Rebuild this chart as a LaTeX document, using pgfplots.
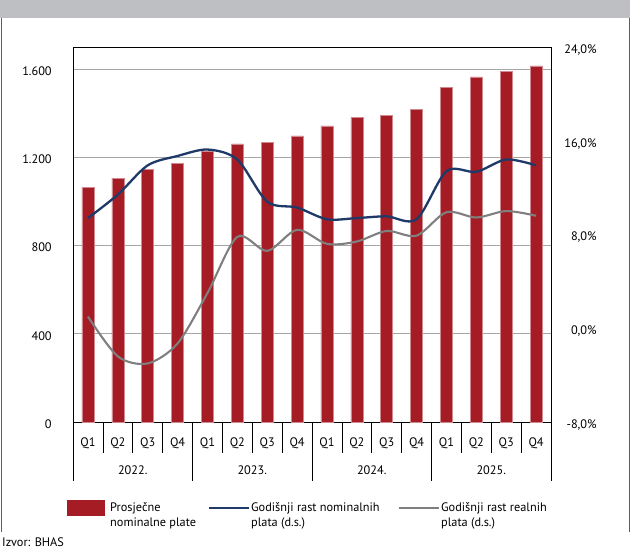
\documentclass[border=0pt]{standalone}
\usepackage{pgfplots}
\pgfplotsset{compat=1.18}
\usepackage{fontspec}
\setmainfont{PT Sans}

\definecolor{barred}{HTML}{A51C24}
\definecolor{baredge}{HTML}{D08A8F}
\definecolor{navy}{HTML}{1F3A68}
\definecolor{realgray}{HTML}{7F7F7F}
\definecolor{hdr}{HTML}{BEBFC3}
\definecolor{gridc}{HTML}{A6A6A6}
\definecolor{framec}{HTML}{5E5E5E}

\begin{document}
\fontsize{12.3}{14}\selectfont
\begin{tikzpicture}[x=1pt,y=1pt]
\useasboundingbox (0,0) rectangle (630,560);
% header band and side frame
\fill[hdr] (0,542) rectangle (630,560);
\draw[framec, line width=0.8pt] (1,28) -- (1,542) (629,28) -- (629,542);

\begin{axis}[
    at={(73pt,138pt)}, anchor=south west,
    width=478pt, height=375pt, scale only axis,
    xmin=-0.5, xmax=15.5,
    ymin=0, ymax=1700,
    clip=false,
    axis line style={black, line width=0.8pt},
    major tick length=0pt,
    ytick pos=left, xtick pos=bottom,
    ytick={0,400,800,1200,1600},
    yticklabels={0,400,800,1.200,1.600},
    yticklabel style={anchor=east, xshift=-17pt, yshift=-2pt},
    xtick={0,...,15},
    xticklabels={Q1,Q2,Q3,Q4,Q1,Q2,Q3,Q4,Q1,Q2,Q3,Q4,Q1,Q2,Q3,Q4},
    xticklabel style={anchor=base, yshift=-25pt},
    ymajorgrids, grid style={gridc, line width=0.7pt},
    ]
\addplot[ybar, bar width=12pt, fill=barred, draw=baredge, line width=0.4pt]
  coordinates {(0,1064) (1,1105) (2,1144) (3,1173) (4,1229) (5,1261) (6,1268) (7,1297)
               (8,1342) (9,1380) (10,1391) (11,1418) (12,1516) (13,1564) (14,1591) (15,1614)};
% category separators
\pgfplotsinvokeforeach{0.5,1.5,2.5,4.5,5.5,6.5,8.5,9.5,10.5,12.5,13.5,14.5}{
  \draw[black, line width=0.7pt] (axis cs:#1,0) -- ++(0pt,-31pt);
}
\pgfplotsinvokeforeach{-0.5,3.5,7.5,11.5,15.5}{
  \draw[black, line width=0.7pt] (axis cs:#1,0) -- ++(0pt,-59pt);
}
\node[anchor=base] at ([yshift=-53pt]axis cs:1.5,0) {2022.};
\node[anchor=base] at ([yshift=-53pt]axis cs:5.5,0) {2023.};
\node[anchor=base] at ([yshift=-53pt]axis cs:9.5,0) {2024.};
\node[anchor=base] at ([yshift=-53pt]axis cs:13.5,0) {2025.};
\end{axis}

\begin{axis}[
    at={(73pt,138pt)}, anchor=south west,
    width=478pt, height=375pt, scale only axis,
    xmin=-0.5, xmax=15.5,
    ymin=-8, ymax=24,
    axis x line=none,
    axis y line*=right,
    axis line style={black, line width=0.8pt},
    major tick length=0pt,
    ytick={-8,0,8,16,24},
    yticklabels={{-8,0\%},{0,0\%},{8,0\%},{16,0\%},{24,0\%}},
    yticklabel style={anchor=east, xshift=50pt, yshift=-3pt},
    ]
\addplot[navy, line width=2.3pt, smooth, tension=0.5]
  coordinates {(0,9.4) (1,11.4) (2,13.9) (3,14.7) (4,15.25) (5,14.4) (6,10.8) (7,10.3)
               (8,9.3) (9,9.4) (10,9.55) (11,9.3) (12,13.4) (13,13.35) (14,14.4) (15,13.9)};
\addplot[realgray, line width=2.1pt, smooth, tension=0.5]
  coordinates {(0,1.0) (1,-2.4) (2,-3.0) (3,-1.3) (4,3.0) (5,7.8) (6,6.6) (7,8.4)
               (8,7.2) (9,7.4) (10,8.3) (11,7.9) (12,9.9) (13,9.45) (14,10.0) (15,9.6)};
\end{axis}

% legend
\fill[barred] (67,44) rectangle (105,60);
\node[anchor=base west, inner sep=0pt] at (110,48) {Prosječne};
\node[anchor=base west, inner sep=0pt] at (110,33) {nominalne plate};
\draw[navy, line width=2pt] (209,52) -- (249,52);
\node[anchor=base west, inner sep=0pt] at (251,48) {Godišnji rast nominalnih};
\node[anchor=base west, inner sep=0pt] at (251,33) {plata (d.s.)};
\draw[realgray, line width=2pt] (399,52) -- (439,52);
\node[anchor=base west, inner sep=0pt] at (441,48) {Godišnji rast realnih};
\node[anchor=base west, inner sep=0pt] at (441,33) {plata (d.s.)};
\node[anchor=base west, inner sep=0pt] at (2,13) {Izvor: BHAS};
\end{tikzpicture}
\end{document}
